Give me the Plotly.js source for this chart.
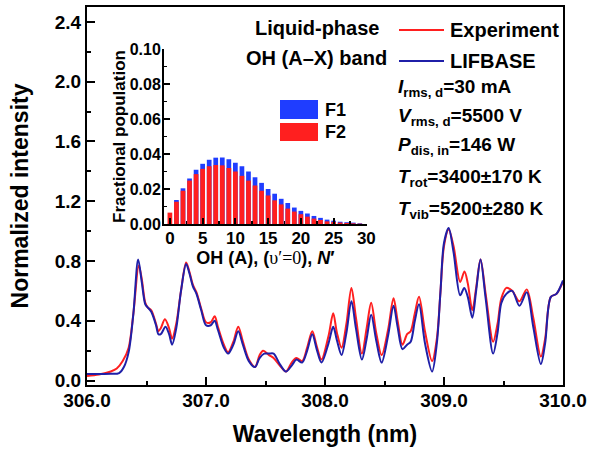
<!DOCTYPE html>
<html>
<head>
<meta charset="utf-8">
<script src="https://cdn.plot.ly/plotly-3.0.1.min.js"></script>
<style>html,body{margin:0;padding:0;background:#fff;}#chart{width:591px;height:461px;}</style>
</head>
<body>
<div id="chart"></div>
<script>
// Main spectrum: wavelength (nm) and normalized intensity
const wlExp = [306.00,306.10,306.20,306.25,306.30,306.35,306.39,306.435,306.46,306.49,306.51,306.54,306.58,306.60,306.62,306.655,306.69,306.715,306.75,306.79,306.833,306.86,306.89,306.92,306.96,307.00,307.04,307.073,307.10,307.15,307.186,307.23,307.271,307.31,307.36,307.412,307.45,307.48,307.53,307.568,307.62,307.672,307.72,307.76,307.808,307.85,307.893,307.93,307.97,308.03,308.069,308.10,308.139,308.18,308.222,308.26,308.31,308.35,308.388,308.43,308.476,308.53,308.576,308.61,308.651,308.69,308.72,308.755,308.79,308.84,308.90,308.94,308.97,309.00,309.039,309.08,309.136,309.172,309.20,309.238,309.27,309.307,309.35,309.413,309.45,309.482,309.524,309.573,309.634,309.695,309.75,309.814,309.85,309.898,309.945,310.00];
const intExp = [0.03,0.04,0.06,0.08,0.13,0.22,0.45,0.77,0.68,0.52,0.49,0.47,0.38,0.33,0.35,0.41,0.35,0.28,0.38,0.60,0.79,0.73,0.64,0.59,0.48,0.39,0.39,0.43,0.36,0.24,0.19,0.26,0.36,0.26,0.14,0.09,0.17,0.20,0.17,0.15,0.10,0.06,0.12,0.15,0.13,0.22,0.33,0.23,0.14,0.30,0.45,0.32,0.22,0.38,0.62,0.42,0.18,0.35,0.52,0.32,0.17,0.34,0.55,0.40,0.24,0.31,0.33,0.45,0.56,0.33,0.13,0.28,0.59,0.90,1.01,0.90,0.66,0.73,0.65,0.47,0.62,0.81,0.58,0.26,0.38,0.55,0.62,0.60,0.53,0.61,0.42,0.16,0.28,0.56,0.58,0.66];

const wlSim = [306.00,306.10,306.20,306.27,306.31,306.35,306.39,306.43,306.46,306.49,306.51,306.54,306.58,306.60,306.62,306.66,306.69,306.715,306.75,306.79,306.833,306.86,306.89,306.92,306.96,307.00,307.04,307.073,307.10,307.15,307.186,307.23,307.271,307.31,307.36,307.412,307.45,307.489,307.53,307.568,307.62,307.672,307.72,307.76,307.808,307.85,307.893,307.93,307.97,308.03,308.069,308.10,308.139,308.18,308.222,308.26,308.31,308.35,308.388,308.43,308.476,308.53,308.576,308.61,308.651,308.69,308.72,308.755,308.79,308.84,308.90,308.94,308.97,309.00,309.039,309.08,309.136,309.17,309.20,309.238,309.27,309.307,309.35,309.413,309.45,309.482,309.524,309.573,309.634,309.695,309.75,309.814,309.85,309.898,309.945,310.00];
const intSim = [0.044,0.044,0.045,0.05,0.09,0.19,0.45,0.81,0.66,0.51,0.49,0.46,0.37,0.31,0.31,0.36,0.31,0.24,0.35,0.60,0.78,0.72,0.63,0.58,0.47,0.37,0.37,0.40,0.34,0.22,0.18,0.24,0.33,0.24,0.13,0.09,0.15,0.18,0.18,0.18,0.11,0.06,0.10,0.14,0.12,0.20,0.31,0.21,0.12,0.25,0.36,0.27,0.17,0.32,0.53,0.35,0.14,0.28,0.44,0.27,0.12,0.30,0.50,0.36,0.21,0.24,0.26,0.40,0.51,0.25,0.06,0.25,0.59,0.92,1.02,0.86,0.57,0.62,0.56,0.42,0.60,0.81,0.55,0.18,0.32,0.52,0.58,0.60,0.50,0.59,0.36,0.11,0.25,0.56,0.58,0.67];

// Inset: rotational level populations
const levelN = [0,1,2,3,4,5,6,7,8,9,10,11,12,13,14,15,16,17,18,19,20,21,22,23,24,25,26,27,28,29];
const popF1 = [0,0.0137,0.0204,0.026,0.031,0.0344,0.0367,0.0379,0.038,0.037,0.035,0.033,0.030,0.0267,0.0235,0.020,0.0173,0.0144,0.012,0.0094,0.0075,0.006,0.0046,0.0035,0.0025,0.0019,0.0013,0.001,0.0008,0.0004];
const popF2 = [0.0065,0.0127,0.019,0.0248,0.0285,0.0315,0.033,0.0337,0.0335,0.032,0.030,0.0275,0.0248,0.022,0.019,0.0163,0.0135,0.0112,0.0088,0.0071,0.0056,0.0042,0.0031,0.0023,0.0015,0.0012,0.0008,0.0006,0.0004,0.0002];

const seriesNames = ['Experiment','LIFBASE'];
const barNames = ['F1','F2'];
const paramLines = [
  '<i>I</i><sub>rms, d</sub>=30 mA',
  '<i>V</i><sub>rms, d</sub>=5500 V',
  '<i>P</i><sub>dis, in</sub>=146 W',
  '<i>T</i><sub>rot</sub>=3400±170 K',
  '<i>T</i><sub>vib</sub>=5200±280 K'
];

const RED = '#ff1f1f', NAVY = '#1f1fa8', BBLUE = '#1f3dff';
const FONT = 'Liberation Sans, Arial, sans-serif';

// pixel -> paper helpers (plot area: x 87..563, y 7..385)
const px = x => (x - 87) / 476;
const py = y => (385 - y) / 378;

const traces = [
  {x: wlExp, y: intExp, type: 'scatter', mode: 'lines', name: seriesNames[0],
   line: {color: RED, width: 2, shape: 'spline', smoothing: 0.9}, showlegend: false, xaxis: 'x', yaxis: 'y'},
  {x: wlSim, y: intSim, type: 'scatter', mode: 'lines', name: seriesNames[1],
   line: {color: NAVY, width: 2, shape: 'spline', smoothing: 0.9}, showlegend: false, xaxis: 'x', yaxis: 'y'},
  {x: levelN, y: popF1, type: 'bar', name: barNames[0], marker: {color: BBLUE, line: {width: 0}},
   width: 0.72, showlegend: false, xaxis: 'x2', yaxis: 'y2'},
  {x: levelN, y: popF2, type: 'bar', name: barNames[1], marker: {color: RED, line: {width: 0}},
   width: 0.72, showlegend: false, xaxis: 'x2', yaxis: 'y2'}
];

const boldFont = (size) => ({family: FONT, size: size, color: '#000', weight: 700});

const annotations = [
  {text: 'Liquid-phase', x: px(317), y: py(28), xref: 'paper', yref: 'paper', xanchor: 'center', yanchor: 'middle', showarrow: false, font: boldFont(20)},
  {text: 'OH (A–X) band', x: px(316), y: py(58), xref: 'paper', yref: 'paper', xanchor: 'center', yanchor: 'middle', showarrow: false, font: boldFont(20)},
  {text: seriesNames[0], x: px(448), y: py(30), xref: 'paper', yref: 'paper', xanchor: 'left', yanchor: 'middle', showarrow: false, font: boldFont(20)},
  {text: seriesNames[1], x: px(448), y: py(61), xref: 'paper', yref: 'paper', xanchor: 'left', yanchor: 'middle', showarrow: false, font: boldFont(20)},
  {text: barNames[0], x: px(323), y: py(110), xref: 'paper', yref: 'paper', xanchor: 'left', yanchor: 'middle', showarrow: false, font: boldFont(18)},
  {text: barNames[1], x: px(323), y: py(132), xref: 'paper', yref: 'paper', xanchor: 'left', yanchor: 'middle', showarrow: false, font: boldFont(18)}
];
const paramY = [88, 117, 146, 178, 210];
paramLines.forEach((t, i) => {
  annotations.push({text: t, x: px(396), y: py(paramY[i]), xref: 'paper', yref: 'paper', xanchor: 'left', yanchor: 'middle', showarrow: false, font: boldFont(19)});
});

const shapes = [
  {type: 'line', xref: 'paper', yref: 'paper', x0: px(399), x1: px(444), y0: py(30), y1: py(30), line: {color: RED, width: 2}},
  {type: 'line', xref: 'paper', yref: 'paper', x0: px(399), x1: px(444), y0: py(61), y1: py(61), line: {color: NAVY, width: 2}},
  {type: 'rect', xref: 'paper', yref: 'paper', x0: px(280), x1: px(318), y0: py(119), y1: py(100), fillcolor: BBLUE, line: {width: 0}},
  {type: 'rect', xref: 'paper', yref: 'paper', x0: px(280), x1: px(318), y0: py(141), y1: py(123), fillcolor: RED, line: {width: 0}}
];

const layout = {
  width: 591, height: 461,
  margin: {l: 87, r: 28, t: 7, b: 76},
  paper_bgcolor: '#fff', plot_bgcolor: 'rgba(0,0,0,0)',
  font: {family: FONT, color: '#000'},
  barmode: 'overlay',
  showlegend: false,
  xaxis: {
    range: [306, 310], dtick: 1, tick0: 306, tickformat: '.1f',
    ticks: 'inside', ticklen: 8, tickwidth: 2, tickcolor: '#000',
    minor: {dtick: 0.5, ticks: 'inside', ticklen: 4, tickwidth: 2, tickcolor: '#000'},
    showline: true, mirror: true, linewidth: 2, linecolor: '#000',
    showgrid: false, zeroline: false,
    tickfont: boldFont(19), ticklabelstandoff: -3,
    title: {text: 'Wavelength (nm)', font: boldFont(23), standoff: 16},
    automargin: false
  },
  yaxis: {
    range: [-0.03, 2.5], dtick: 0.4, tick0: 0, tickformat: '.1f',
    ticks: 'inside', ticklen: 8, tickwidth: 2, tickcolor: '#000',
    minor: {dtick: 0.2, ticks: 'inside', ticklen: 4, tickwidth: 2, tickcolor: '#000'},
    showline: true, mirror: true, linewidth: 2, linecolor: '#000',
    showgrid: false, zeroline: false,
    tickfont: boldFont(19),
    title: {text: 'Normalized intensity', font: boldFont(23), standoff: 20},
    automargin: true
  },
  xaxis2: {
    domain: [px(164), px(367)], anchor: 'y2', range: [-0.9, 30.1], dtick: 5, tick0: 0,
    ticks: 'inside', ticklen: 6, tickwidth: 2, tickcolor: '#000',
    minor: {dtick: 2.5, ticks: 'inside', ticklen: 3, tickwidth: 1.5, tickcolor: '#000'},
    showline: true, mirror: false, linewidth: 2, linecolor: '#000',
    showgrid: false, zeroline: false,
    tickfont: boldFont(17), ticklabelstandoff: -2,
    title: {text: 'OH (A), (<span style="font-family:Liberation Serif;font-weight:normal">υ′=0</span>), <i>N</i>′', font: boldFont(18), standoff: 2}
  },
  yaxis2: {
    domain: [py(224), py(49)], anchor: 'x2', range: [0, 0.1], dtick: 0.02, tick0: 0, tickformat: '.2f',
    ticks: 'inside', ticklen: 6, tickwidth: 2, tickcolor: '#000',
    minor: {dtick: 0.01, ticks: 'inside', ticklen: 3, tickwidth: 1.5, tickcolor: '#000'},
    showline: true, mirror: false, linewidth: 2, linecolor: '#000',
    showgrid: false, zeroline: false,
    tickfont: boldFont(16), ticklabelstandoff: -2,
    title: {text: 'Fractional population', font: boldFont(17), standoff: 0}
  },
  annotations: annotations,
  shapes: shapes
};

Plotly.newPlot('chart', traces, layout, {displayModeBar: false, staticPlot: true});
</script>
</body>
</html>
